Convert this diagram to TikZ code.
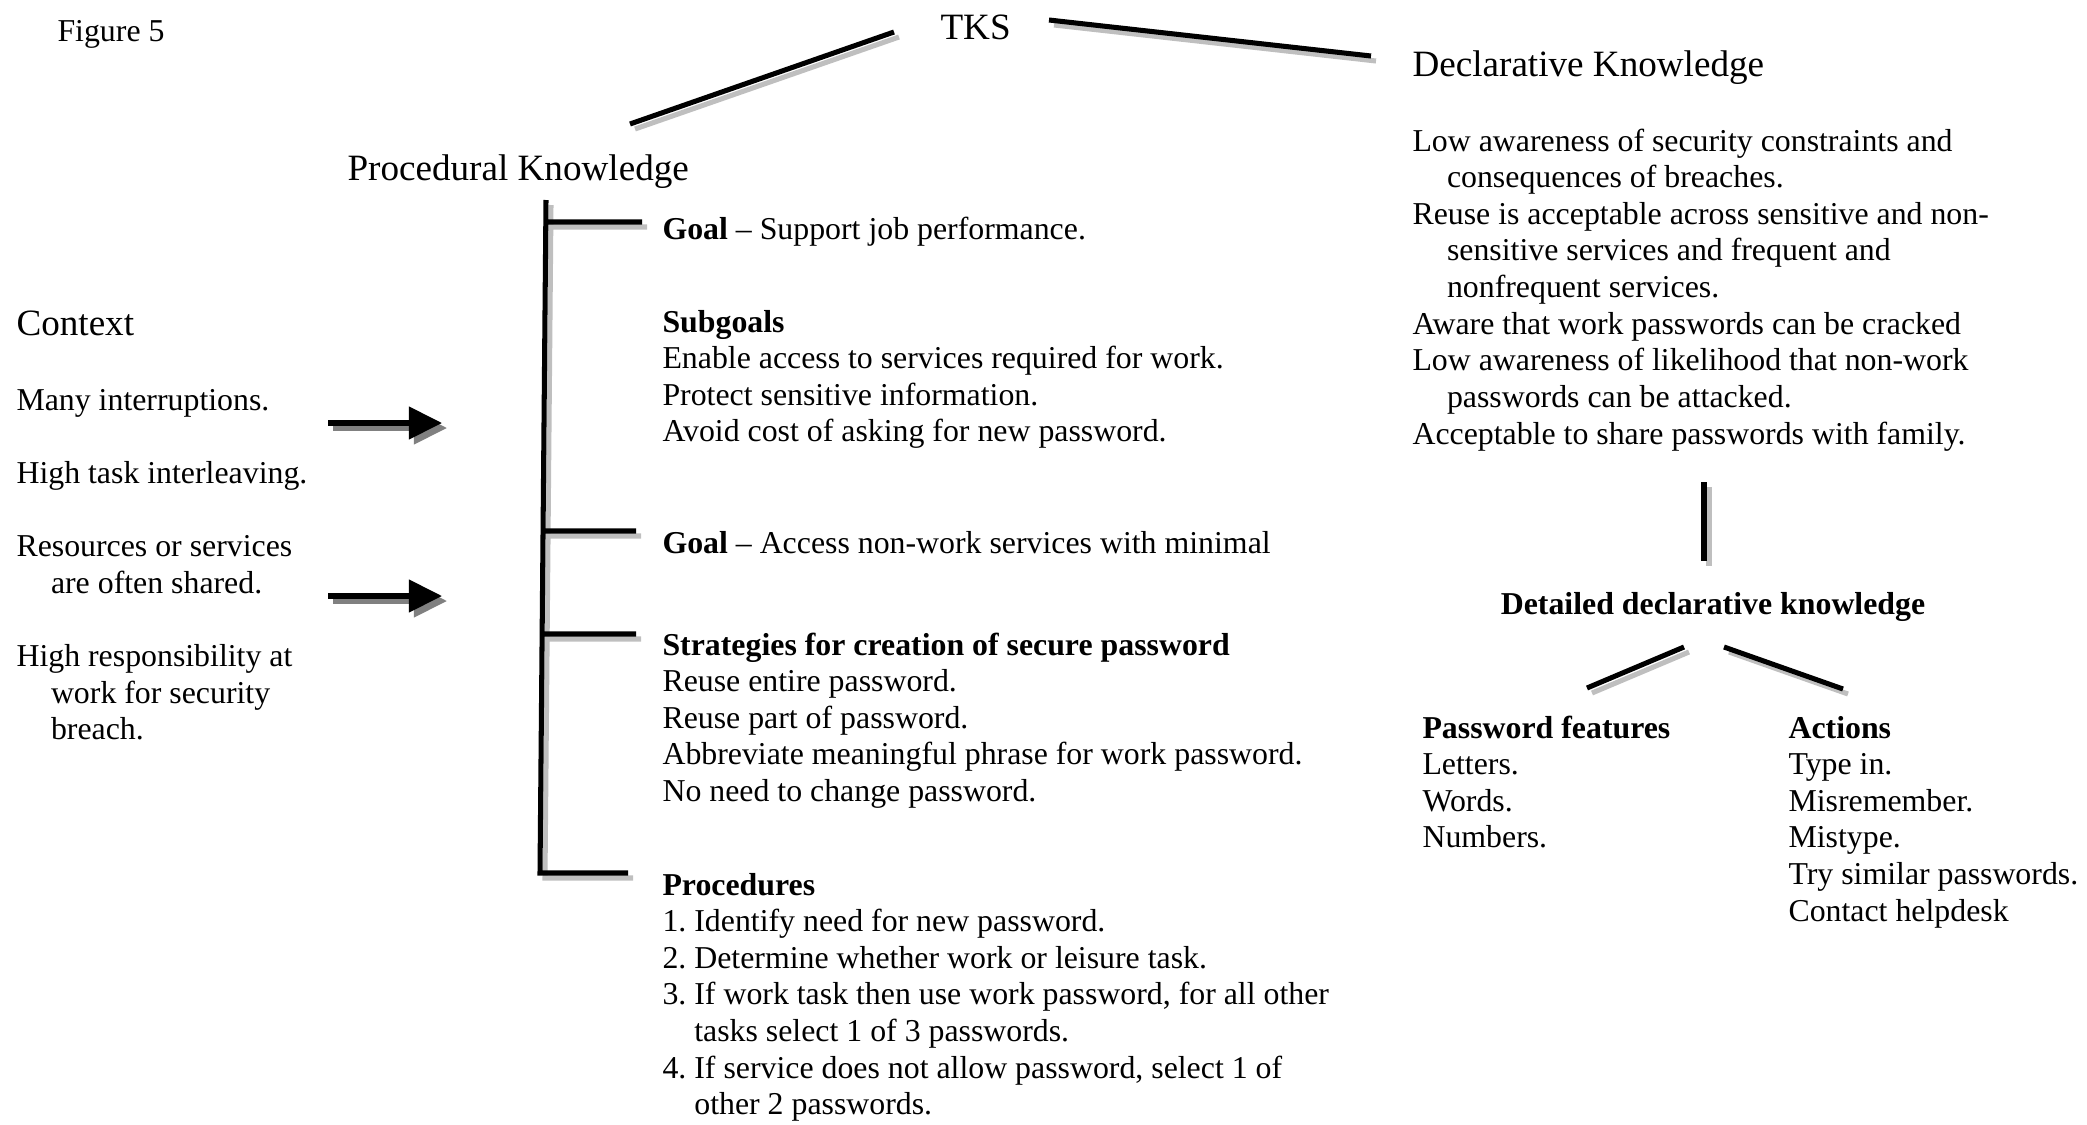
\documentclass[tikz,border=0pt]{standalone}
\usepackage{fontspec}
\setmainfont{Liberation Serif}
\usetikzlibrary{arrows.meta}

\definecolor{linegray}{gray}{0.75}
\definecolor{arrowgray}{gray}{0.5}

\tikzset{
	every node/.style={inner sep=0pt, font=\fontsize{12}{13.8}\selectfont},
	heading/.style={font=\fontsize{14}{16.8}\selectfont},
	textblock/.style={anchor=north west, align=left},
	bar/.style={line width=1.9pt, preaction={draw=linegray, line width=1.9pt, transform canvas={shift={(5,5)}}}},
	blockarrow/.style={line width=2pt, -{Triangle[length=12.5pt, width=12pt]}},
	arrowshade/.style={blockarrow, draw=arrowgray, transform canvas={shift={(5,5)}}}
}

\begin{document}
\frenchspacing
\begin{tikzpicture}[x=0.377pt, y=-0.377pt]
		\useasboundingbox (0,0) rectangle (2087,1125);

		\node (fig)	[anchor=base west]		at (57,41)	{Figure 5};
		\node (tks)	[heading, anchor=base west]	at (940,39)	{TKS};
		\node (proc)	[heading, anchor=base west]	at (347,180)	{Procedural Knowledge};
		\node (decl)	[heading, anchor=base west]	at (1412,76)	{Declarative Knowledge};
		\node (ctx)	[heading, anchor=base west]	at (16,335)	{Context};

		\node (ctxlist) [textblock] at (16,384) {\strut Many interruptions.\\[13.8pt]
			High task interleaving.\\[13.8pt]
			Resources or services\\
			\hspace*{13pt}are often shared.\\[13.8pt]
			High responsibility at\\
			\hspace*{13pt}work for security\\
			\hspace*{13pt}breach.};

		\node (goala) [textblock] at (662,213) {\strut\textbf{Goal} -- Support job performance.};
		\node (subgoals) [textblock] at (662,306) {\strut\textbf{Subgoals}\\
			Enable access to services required for work.\\
			Protect sensitive information.\\
			Avoid cost of asking for new password.};
		\node (goalb) [textblock] at (662,527) {\strut\textbf{Goal} -- Access non-work services with minimal};
		\node (strat) [textblock] at (662,629) {\strut\textbf{Strategies for creation of secure password}\\
			Reuse entire password.\\
			Reuse part of password.\\
			Abbreviate meaningful phrase for work password.\\
			No need to change password.};
		\node (procs) [textblock] at (662,869) {\strut\textbf{Procedures}\\
			1. Identify need for new password.\\
			2. Determine whether work or leisure task.\\
			3. If work task then use work password, for all other\\
			\hspace*{12pt}tasks select 1 of 3 passwords.\\
			4. If service does not allow password, select 1 of\\
			\hspace*{12pt}other 2 passwords.};

		\node (decllist) [textblock] at (1412,125) {\strut Low awareness of security constraints and\\
			\hspace*{13pt}consequences of breaches.\\
			Reuse is acceptable across sensitive and non-\\
			\hspace*{13pt}sensitive services and frequent and\\
			\hspace*{13pt}nonfrequent services.\\
			Aware that work passwords can be cracked\\
			Low awareness of likelihood that non-work\\
			\hspace*{13pt}passwords can be attacked.\\
			Acceptable to share passwords with family.};
		\node (detail) [anchor=base, font=\fontsize{12}{13.8}\selectfont\bfseries] at (1713,614) {Detailed declarative knowledge};
		\node (feat) [textblock] at (1422,712) {\strut\textbf{Password features}\\
			Letters.\\
			Words.\\
			Numbers.};
		\node (act) [textblock] at (1788,712) {\strut\textbf{Actions}\\
			Type in.\\
			Misremember.\\
			Mistype.\\
			Try similar passwords.\\
			Contact helpdesk};

		\coordinate (tksl1) at (630,124);	\coordinate (tksl2) at (894,32);
		\coordinate (tksr1) at (1049,20);	\coordinate (tksr2) at (1371,56);
		\coordinate (stem1) at (1704,482);	\coordinate (stem2) at (1704,561);
		\coordinate (featl1) at (1587,688);	\coordinate (featl2) at (1684,647);
		\coordinate (actl1) at (1724,647);	\coordinate (actl2) at (1843,689);

		\coordinate (ptop) at (546,200);	\coordinate (pbot) at (540,873);
		\coordinate (j1) at (545.8,222);	\coordinate (e1) at (642,222);
		\coordinate (j2) at (543,531);		\coordinate (e2) at (636,531);
		\coordinate (j3) at (542.1,634);	\coordinate (e3) at (636,634);
		\coordinate (e4) at (628,873);

		\draw [bar] (tksl1) to (tksl2);
		\draw [bar] (tksr1) to (tksr2);
		\draw [bar] (stem1) to (stem2);
		\draw [bar] (featl1) to (featl2);
		\draw [bar] (actl1) to (actl2);

		\draw [bar] (ptop) -- (pbot) -- (e4) (j1) -- (e1) (j2) -- (e2) (j3) -- (e3);

		\coordinate (a1) at (328,423);	\coordinate (a1tip) at (442,423);
		\coordinate (a2) at (328,596);	\coordinate (a2tip) at (442,596);
		\draw [arrowshade] (a1) to (a1tip);
		\draw [arrowshade] (a2) to (a2tip);
		\draw [blockarrow] (a1) to (a1tip);
		\draw [blockarrow] (a2) to (a2tip);
	\end{tikzpicture}
\end{document}
